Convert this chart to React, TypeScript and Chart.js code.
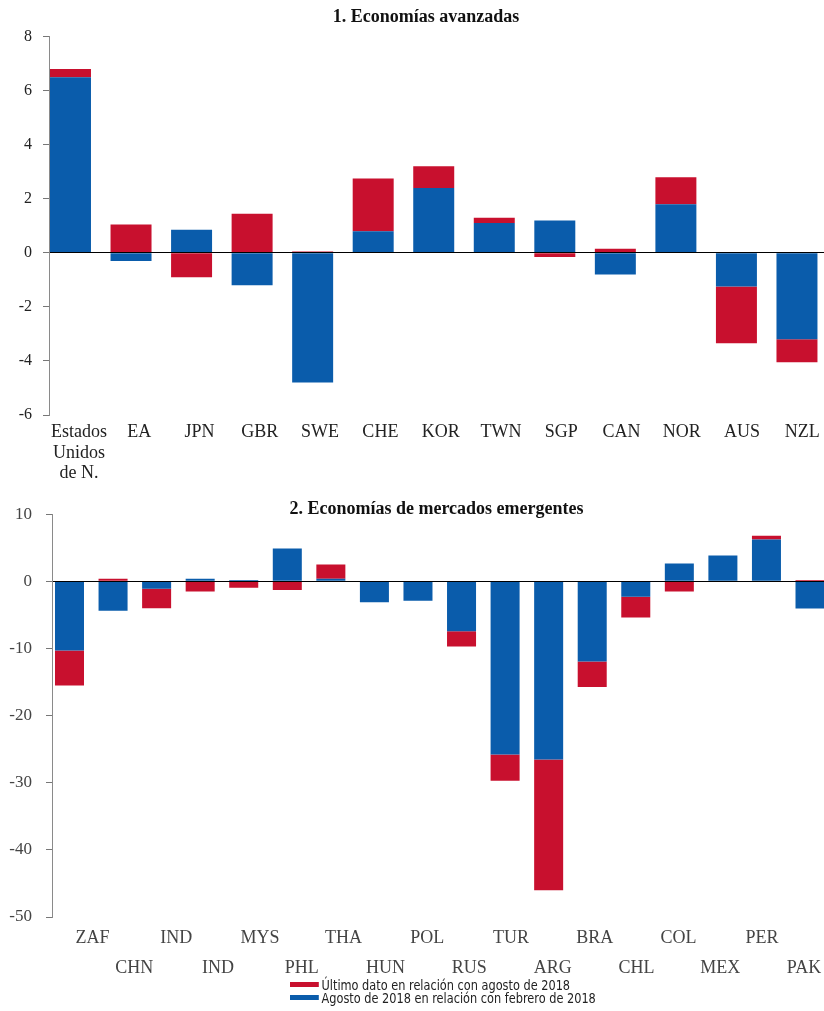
import React, { useEffect, useRef } from 'react';
import { Chart, registerables } from 'chart.js';

Chart.register(...registerables);

const SERIF = '"Liberation Serif", "Times New Roman", serif';
const NARROW = '"Liberation Sans Narrow", "Arial Narrow", "DejaVu Sans Condensed", sans-serif';
const RED = '#C8102E';
const BLUE = '#0A5CAB';

const LEGEND_RED = 'Último dato en relación con agosto de 2018';
const LEGEND_BLUE = 'Agosto de 2018 en relación con febrero de 2018';

// Panel 1: advanced economies
const advTitle = '1. Economías avanzadas';
const advCategories = ['Estados\nUnidos\nde N.', 'EA', 'JPN', 'GBR', 'SWE', 'CHE', 'KOR', 'TWN', 'SGP', 'CAN', 'NOR', 'AUS', 'NZL'];
const advFebAug = [6.5, -0.3, 0.85, -1.2, -4.8, 0.8, 2.4, 1.1, 1.2, -0.8, 1.8, -1.25, -3.2];
const advAugLatest = [0.3, 1.05, -0.9, 1.45, 0.05, 1.95, 0.8, 0.2, -0.15, 0.15, 1.0, -2.1, -0.85];
const advYMin = -6;
const advYMax = 8;
const advYStep = 2;

// Panel 2: emerging market economies
const emTitle = '2. Economías de mercados emergentes';
const emCategories = ['ZAF', 'CHN', 'IND', 'IND', 'MYS', 'PHL', 'THA', 'HUN', 'POL', 'RUS', 'TUR', 'ARG', 'BRA', 'CHL', 'COL', 'MEX', 'PER', 'PAK'];
const emFebAug = [-10.3, -4.4, -1.1, 0.4, 0.2, 4.9, 0.4, -3.1, -2.9, -7.45, -25.8, -26.55, -11.95, -2.3, 2.65, 3.85, 6.25, -4.05];
const emAugLatest = [-5.2, 0.4, -2.9, -1.5, -0.95, -1.3, 2.1, 0, 0, -2.25, -3.9, -19.45, -3.8, -3.1, -1.5, 0, 0.55, 0.2];
const emYMin = -50;
const emYMax = 10;
const emYStep = 10;

type PanelSpec = {
  labels: string[];
  blue: number[];
  red: number[];
  yMin: number;
  yMax: number;
  yStep: number;
  title?: string;
  padTop: number;
  yWidth: number;
  xMin: number;
  xMax: number;
  lMin: number;
  lMax: number;
  barPct: number;
  labelHeight: number;
  labelPad: number;
  labelLineHeight: number;
  alternate: boolean;
  yFont: number;
  yColor: string;
  xColor: string;
  yPad: number;
};

function makeConfig(p: PanelSpec): any {
  const toPts = (arr: number[]) => arr.map((v, i) => ({ x: i, y: v }));
  return {
    type: 'bar',
    data: {
      datasets: [
        {
          label: LEGEND_BLUE,
          data: toPts(p.blue),
          backgroundColor: BLUE,
          borderWidth: 0,
          categoryPercentage: 1,
          barPercentage: p.barPct,
          xAxisID: 'x',
          yAxisID: 'y',
        },
        {
          label: LEGEND_RED,
          data: toPts(p.red),
          backgroundColor: RED,
          borderWidth: 0,
          categoryPercentage: 1,
          barPercentage: p.barPct,
          xAxisID: 'x',
          yAxisID: 'y',
        },
      ],
    },
    options: {
      animation: false,
      responsive: false,
      layout: { padding: { top: p.padTop, left: 0, right: 0, bottom: 0 } },
      plugins: {
        legend: { display: false },
        tooltip: { enabled: false },
        title: p.title
          ? {
              display: true,
              text: p.title,
              color: '#111',
              font: { family: SERIF, size: 18, weight: 'bold', lineHeight: 1.2 },
              padding: { top: 7, bottom: 8 },
            }
          : { display: false },
      },
      scales: {
        x: {
          type: 'linear',
          axis: 'x',
          position: 'bottom',
          stacked: true,
          display: false,
          offset: false,
          grid: { offset: false },
          min: p.xMin,
          max: p.xMax,
          ticks: { stepSize: 1, includeBounds: false },
        },
        xl: {
          type: 'linear',
          axis: 'x',
          position: 'bottom',
          offset: false,
          min: p.lMin,
          max: p.lMax,
          grid: { display: false, drawTicks: false, offset: false },
          border: { display: false },
          ticks: {
            stepSize: 1,
            includeBounds: false,
            autoSkip: false,
            maxRotation: 0,
            minRotation: 0,
            padding: p.labelPad,
            color: p.xColor,
            font: { family: SERIF, size: 18, lineHeight: p.labelLineHeight },
            callback: (v: number) => {
              if (!Number.isInteger(v) || v < 0 || v >= p.labels.length) return '';
              const lines = p.labels[v].split('\n');
              if (p.alternate && v % 2 === 1) return ['', ...lines];
              return lines;
            },
          },
          afterFit: (s: any) => {
            s.height = p.labelHeight;
          },
        },
        y: {
          type: 'linear',
          stacked: true,
          min: p.yMin,
          max: p.yMax,
          ticks: {
            stepSize: p.yStep,
            padding: p.yPad,
            color: p.yColor,
            font: { family: SERIF, size: p.yFont },
          },
          grid: {
            z: 1,
            color: (c: any) => (c.tick && c.tick.value === 0 ? '#000' : 'rgba(0,0,0,0)'),
            tickColor: '#777',
            tickLength: 6,
            lineWidth: 1,
          },
          border: { display: true, color: '#8a8a8a', width: 1, z: 2 },
          afterFit: (s: any) => {
            s.width = p.yWidth;
          },
        },
      },
    },
  };
}

const advSpec: PanelSpec = {
  labels: advCategories,
  blue: advFebAug,
  red: advAugLatest,
  yMin: advYMin,
  yMax: advYMax,
  yStep: advYStep,
  title: advTitle,
  padTop: 0,
  yWidth: 49,
  xMin: -0.355,
  xMax: 12.909,
  lMin: -0.498,
  lMax: 12.825,
  barPct: 0.677,
  labelHeight: 75,
  labelPad: 7,
  labelLineHeight: 1.14,
  alternate: false,
  yFont: 16,
  yColor: '#222',
  xColor: '#222',
  yPad: 11,
};

const emSpec: PanelSpec = {
  labels: emCategories,
  blue: emFebAug,
  red: emAugLatest,
  yMin: emYMin,
  yMax: emYMax,
  yStep: emYStep,
  padTop: 19,
  yWidth: 52,
  xMin: -0.4017,
  xMax: 18.446,
  lMin: -0.9677,
  lMax: 18.65,
  barPct: 0.666,
  labelHeight: 66,
  labelPad: 6,
  labelLineHeight: 1.667,
  alternate: true,
  yFont: 17,
  yColor: '#444',
  xColor: '#444',
  yPad: 14,
};

function Panel({ spec, width, height }: { spec: PanelSpec; width: number; height: number }) {
  const ref = useRef<HTMLCanvasElement | null>(null);
  useEffect(() => {
    if (!ref.current) return;
    const chart = new Chart(ref.current, makeConfig(spec));
    return () => chart.destroy();
  }, [spec]);
  return <canvas ref={ref} width={width} height={height} style={{ display: 'block', width, height }} />;
}

export default function App() {
  return (
    <div
      style={{
        position: 'fixed',
        left: 0,
        top: 0,
        width: 824,
        height: 1011,
        overflow: 'hidden',
        background: '#fff',
      }}
    >
      <div style={{ position: 'absolute', left: 0, top: 0 }}>
        <Panel spec={advSpec} width={852} height={490} />
      </div>
      <div style={{ position: 'absolute', left: 0, top: 490 }}>
        <Panel spec={emSpec} width={873} height={493} />
      </div>
      <div
        style={{
          position: 'absolute',
          left: 0,
          top: 497,
          width: 873,
          textAlign: 'center',
          fontFamily: SERIF,
          fontWeight: 'bold',
          fontSize: 18,
          lineHeight: '22px',
          color: '#111',
        }}
      >
        {emTitle}
      </div>
      <div
        style={{
          position: 'absolute',
          left: 290,
          top: 978,
          fontFamily: NARROW,
          fontSize: 14,
          color: '#222',
          transform: 'scaleX(0.9)',
          transformOrigin: 'left center',
        }}
      >
        {[
          { c: RED, t: LEGEND_RED },
          { c: BLUE, t: LEGEND_BLUE },
        ].map((it) => (
          <div key={it.t} style={{ display: 'flex', alignItems: 'center', height: 13, whiteSpace: 'nowrap' }}>
            <span style={{ display: 'inline-block', width: 32, height: 5, background: it.c, marginRight: 3 }} />
            <span>{it.t}</span>
          </div>
        ))}
      </div>
    </div>
  );
}
